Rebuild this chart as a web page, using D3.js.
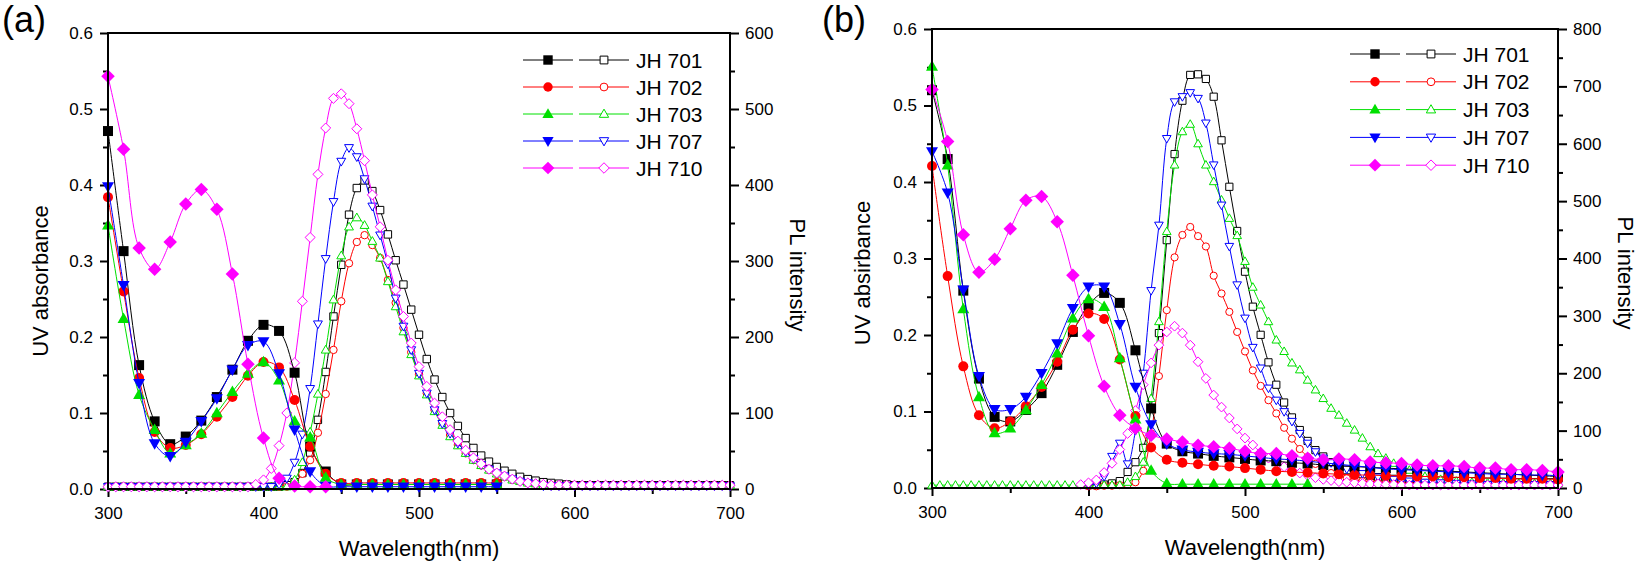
<!DOCTYPE html>
<html><head><meta charset="utf-8">
<script src="https://cdn.jsdelivr.net/npm/d3@7"></script>
<style>
body{margin:0;background:#fff}
svg{display:block}
text{font-family:"Liberation Sans",Arial,sans-serif;fill:#000}
</style>
</head><body>
<svg id="chart" width="1643" height="578"></svg>
<script>
// ---------------- DATA ----------------
const seriesNames = ["JH 701","JH 702","JH 703","JH 707","JH 710"];
const seriesColors = ["#000000","#ff0000","#00e000","#0000ff","#ff00ff"];
const markerShapes = ["square","circle","triangleUp","triangleDown","diamond"];

const xTicks = [300,400,500,600,700];
const xTickLabels = ["300","400","500","600","700"];
const xMinorTicks = [350,450,550,650];
const uvTicks = [0,0.1,0.2,0.3,0.4,0.5,0.6];
const uvTickLabels = ["0.0","0.1","0.2","0.3","0.4","0.5","0.6"];
const uvMinorTicks = [0.05,0.15,0.25,0.35,0.45,0.55];
const plTicksA = [0,100,200,300,400,500,600];
const plTickLabelsA = ["0","100","200","300","400","500","600"];
const plMinorTicksA = [50,150,250,350,450,550];
const plTicksB = [0,100,200,300,400,500,600,700,800];
const plTickLabelsB = ["0","100","200","300","400","500","600","700","800"];
const plMinorTicksB = [50,150,250,350,450,550,650,750];

const uvWavelength = [300,310,320,330,340,350,360,370,380,390,400,410,420,430,440,450,460,470,480,490,
  500,510,520,530,540,550,560,570,580,590,600,610,620,630,640,650,660,670,680,690,700];
const plWavelength = [300,305,310,315,320,325,330,335,340,345,350,355,360,365,370,375,380,385,390,395,
  400,405,410,415,420,425,430,435,440,445,450,455,460,465,470,475,480,485,490,495,
  500,505,510,515,520,525,530,535,540,545,550,555,560,565,570,575,580,585,590,595,
  600,605,610,615,620,625,630,635,640,645,650,655,660,665,670,675,680,685,690,695,700];

// Panel (a) UV absorbance (300..700 step 10; measured to 550)
const uvA701 = [0.471,0.313,0.163,0.089,0.059,0.069,0.090,0.121,0.157,0.195,0.216,0.208,0.153,0.056,0.023,
  0.006,0.006,0.006,0.006,0.006,0.006,0.006,0.006,0.006,0.006,0.006,
  null,null,null,null,null,null,null,null,null,null,null,null,null,null,null];
const uvA702 = [0.384,0.260,0.146,0.075,0.054,0.058,0.072,0.095,0.121,0.149,0.167,0.160,0.117,0.056,0.020,
  0.008,0.008,0.008,0.008,0.008,0.008,0.008,0.008,0.008,0.008,0.008,
  null,null,null,null,null,null,null,null,null,null,null,null,null,null,null];
const uvA703 = [0.347,0.224,0.124,0.078,0.047,0.058,0.073,0.100,0.128,0.152,0.167,0.143,0.089,0.068,0.015,
  0.006,0.006,0.006,0.006,0.006,0.006,0.006,0.006,0.006,0.006,0.006,
  null,null,null,null,null,null,null,null,null,null,null,null,null,null,null];
const uvA707 = [0.398,0.268,0.139,0.060,0.043,0.062,0.089,0.119,0.157,0.189,0.194,0.152,0.078,0.023,0.004,
  0.003,0.003,0.003,0.003,0.003,0.003,0.003,0.003,0.003,0.003,0.003,
  null,null,null,null,null,null,null,null,null,null,null,null,null,null,null];
const uvA710 = [0.543,0.447,0.317,0.289,0.325,0.375,0.394,0.368,0.283,0.164,0.067,0.014,0.004,0.003,0.003,
  null,null,null,null,null,null,null,null,null,null,null,
  null,null,null,null,null,null,null,null,null,null,null,null,null,null,null];

// Panel (a) PL intensity (300..700 step 5)
const plA701 = [3,3,3,3,3,3,3,3,3,3, 3,3,3,3,3,3,3,3,3,3,
  3,3,3,5,9,21,48,91,154,227, 295,361,396,406,392,367,335,301,269,236,
  203,171,144,121,100,83,67,54,44,36, 29,24,20,16,13,11,9,8,7,6,
  5,5,5,5,5,5,5,5,5,5, 5,5,5,5,5,5,5,5,5,5, 5];
const plA702 = [3,3,3,3,3,3,3,3,3,3, 3,3,3,3,3,3,3,3,3,3,
  3,3,3,3,8,20,38,74,125,183, 247,297,325,334,321,304,275,245,212,180,
  151,126,104,86,71,58,47,38,31,25, 20,16,12,10,8,7,5,5,5,5,
  5,5,5,5,5,5,5,5,5,5, 5,5,5,5,5,5,5,5,5,5, 5];
const plA703 = [3,3,3,3,3,3,3,3,3,3, 3,3,3,3,3,3,3,3,3,3,
  3,3,3,3,12,35,75,125,183,249, 307,345,357,347,326,304,273,240,207,177,
  149,124,102,84,69,57,47,38,31,25, 20,16,12,10,8,7,5,5,5,5,
  5,5,5,5,5,5,5,5,5,5, 5,5,5,5,5,5,5,5,5,5, 5];
const plA707 = [3,3,3,3,3,3,3,3,3,3, 3,3,3,3,3,3,3,3,3,3,
  3,3,6,14,35,72,132,217,303,378, 431,449,437,408,372,334,296,251,214,183,
  152,126,104,86,73,60,49,40,32,26, 21,17,13,10,8,6,4,4,4,4,
  4,4,4,4,4,4,4,4,4,4, 4,4,4,4,4,4,4,4,4,4, 4];
const plA710 = [3,3,3,3,3,3,3,3,3,3, 3,3,3,3,3,3,3,3,3,6,
  12,27,57,100,166,247,331,414,475,514, 520,507,474,432,387,345,301,262,227,192,
  161,135,113,95,78,63,51,41,33,26, 21,17,13,10,8,7,6,5,5,5,
  5,5,5,5,5,5,5,5,5,5, 5,5,5,5,5,5,5,5,5,5, 5];

// Panel (b) UV absorbance (300..700 step 10)
const uvB701 = [0.520,0.430,0.258,0.143,0.093,0.087,0.102,0.124,0.161,0.204,0.239,0.255,0.242,0.180,0.104,
  0.058,0.048,0.045,0.042,0.040,0.038,0.036,0.035,0.033,0.032,0.030,0.029,0.028,0.027,0.026,
  0.025,0.024,0.023,0.022,0.021,0.020,0.019,0.018,0.017,0.016,0.015];
const uvB702 = [0.421,0.277,0.159,0.095,0.078,0.087,0.107,0.132,0.165,0.207,0.228,0.221,0.168,0.094,0.053,
  0.037,0.033,0.031,0.029,0.028,0.026,0.024,0.022,0.021,0.020,0.019,0.018,0.017,0.017,0.016,
  0.016,0.015,0.015,0.014,0.014,0.013,0.013,0.012,0.012,0.012,0.011];
const uvB703 = [0.551,0.422,0.234,0.119,0.072,0.078,0.102,0.135,0.176,0.222,0.247,0.237,0.170,0.090,0.023,
  0.006,0.005,0.005,0.005,0.005,0.005,0.005,0.005,0.005,0.005,
  null,null,null,null,null,null,null,null,null,null,null,null,null,null,null,null];
const uvB707 = [0.440,0.386,0.259,0.146,0.103,0.103,0.119,0.150,0.189,0.235,0.263,0.263,0.214,0.132,0.083,
  0.058,0.050,0.047,0.045,0.044,0.042,0.040,0.038,0.037,0.035,0.033,0.031,0.029,0.027,0.025,
  0.024,0.023,0.022,0.021,0.020,0.019,0.018,0.018,0.017,0.017,0.016];
const uvB710 = [0.521,0.453,0.331,0.282,0.299,0.339,0.376,0.381,0.348,0.278,0.199,0.133,0.095,0.078,0.069,
  0.064,0.060,0.056,0.054,0.052,0.048,0.045,0.045,0.042,0.039,0.037,0.038,0.037,0.034,0.033,
  0.032,0.030,0.029,0.029,0.028,0.026,0.026,0.024,0.024,0.023,0.021];

// Panel (b) PL intensity (300..700 step 5)
const plB701 = [null,null,null,null,null,null,null,null,null,null, null,null,null,null,null,null,null,null,null,null,
  5,5,6,8,12,28,45,70,139,270, 432,582,675,720,721,713,682,606,525,448,
  377,316,267,219,180,149,123,101,82,66, 55,45,37,31,27,24,21,19,17,16,
  15,15,14,14,13,13,13,12,12,12, 12,11,11,11,11,10,10,10,10,10, 10];
const plB702 = [null,null,null,null,null,null,null,null,null,null, null,null,null,null,null,null,null,null,null,null,
  3,3,4,4,5,6,10,30,95,195, 310,402,441,455,439,421,370,339,307,272,
  238,205,178,153,130,105,86,68,54,42, 33,26,21,17,14,12,10,9,8,8,
  7,6,6,6,6,6,6,6,6,6, 6,6,6,6,6,6,6,6,6,6, 6];
const plB703 = [5,5,5,5,5,5,5,5,5,5, 5,5,5,5,5,5,5,5,5,5,
  5,5,5,5,5,10,20,45,156,290, 447,563,621,634,600,563,534,502,470,440,
  395,350,319,290,258,238,218,206,188,171, 156,139,127,113,101,87,72,60,52,43,
  37,31,26,20,17,15,13,12,11,10, 10,9,9,9,8,8,8,8,8,8, 8];
const plB707 = [null,null,null,null,null,null,null,null,null,null, null,null,null,null,null,null,null,null,null,null,
  5,8,20,55,78,42,100,200,344,458, 609,673,682,689,679,636,563,493,421,354,
  296,245,209,174,153,133,116,95,78,63, 52,44,37,33,28,25,22,19,17,15,
  13,12,11,10,9,9,8,8,8,7, 7,6,6,6,6,6,6,6,6,6, 6];
const plB710 = [null,null,null,null,null,null,null,null,null,null, null,null,null,null,null,null,null,null,null,6,
  9,14,27,43,67,95,135,180,218,249, 272,282,270,249,220,191,162,141,122,103,
  87,75,62,52,44,37,31,26,22,18, 15,13,11,10,9,8,7,7,6,6,
  5,5,5,5,5,5,5,5,5,5, 5,5,5,5,5,5,5,5,5,5, 5];

// ---------------- LAYOUT ----------------
const panels = [
  {label:"(a)", labelX:2, left:108, right:730, top:33, bottom:489,
   uvTitle:"UV absorbance", uvTitleX:48, uvTitleY:281, plTitleX:790, plTitleY:275,
   xTitleY:556, plMax:600, plTicks:plTicksA, plTickLabels:plTickLabelsA, plMinor:plMinorTicksA,
   uv:[uvA701,uvA702,uvA703,uvA707,uvA710], pl:[plA701,plA702,plA703,plA707,plA710],
   legendX:523, legendY:60, legendStep:27, openSize:3.7},
  {label:"(b)", labelX:822, left:932, right:1558, top:29, bottom:488,
   uvTitle:"UV absirbance", uvTitleX:870, uvTitleY:273, plTitleX:1618, plTitleY:273,
   xTitleY:555, plMax:800, plTicks:plTicksB, plTickLabels:plTickLabelsB, plMinor:plMinorTicksB,
   uv:[uvB701,uvB702,uvB703,uvB707,uvB710], pl:[plB701,plB702,plB703,plB707,plB710],
   legendX:1350, legendY:54, legendStep:27.8, openSize:3.6}
];

const svg = d3.select("#chart");

function symPath(shape, s){
  switch(shape){
    case "square": return `M${-s},${-s}H${s}V${s}H${-s}Z`;
    case "circle": return `M${s},0A${s},${s} 0 1,1 ${-s},0A${s},${s} 0 1,1 ${s},0Z`;
    case "triangleUp": return `M0,${-s*1.25}L${s*1.2},${s*0.85}L${-s*1.2},${s*0.85}Z`;
    case "triangleDown": return `M0,${s*1.25}L${s*1.2},${-s*0.85}L${-s*1.2},${-s*0.85}Z`;
    case "diamond": return `M0,${-s*1.35}L${s*1.35},0L0,${s*1.35}L${-s*1.35},0Z`;
  }
}

function styleAxis(a, fs){
  a.select(".domain").remove();
  a.selectAll(".tick line").attr("stroke","#000").attr("stroke-width",2);
  a.selectAll(".tick text").attr("font-size",fs).attr("font-family","Liberation Sans, Arial, sans-serif").attr("fill","#000");
}

function drawPanel(p){
  const x = d3.scaleLinear().domain([300,700]).range([p.left,p.right]);
  const yU = d3.scaleLinear().domain([0,0.6]).range([p.bottom,p.top]);
  const yP = d3.scaleLinear().domain([0,p.plMax]).range([p.bottom,p.top]);
  const g = svg.append("g");

  const fmtFrom = (ticks, labels) => d => labels[ticks.indexOf(d)];
  let a;
  a = g.append("g").attr("transform",`translate(0,${p.bottom})`)
    .call(d3.axisBottom(x).tickValues(xTicks).tickSize(8).tickPadding(10).tickFormat(fmtFrom(xTicks,xTickLabels)));
  styleAxis(a,17);
  a = g.append("g").attr("transform",`translate(0,${p.bottom})`)
    .call(d3.axisBottom(x).tickValues(xMinorTicks).tickSize(5).tickFormat(""));
  styleAxis(a,17);
  a = g.append("g").attr("transform",`translate(${p.left},0)`)
    .call(d3.axisLeft(yU).tickValues(uvTicks).tickSize(8).tickPadding(7).tickFormat(fmtFrom(uvTicks,uvTickLabels)));
  styleAxis(a,17);
  a = g.append("g").attr("transform",`translate(${p.left},0)`)
    .call(d3.axisLeft(yU).tickValues(uvMinorTicks).tickSize(5).tickFormat(""));
  styleAxis(a,17);
  a = g.append("g").attr("transform",`translate(${p.right},0)`)
    .call(d3.axisRight(yP).tickValues(p.plTicks).tickSize(9).tickPadding(6).tickFormat(fmtFrom(p.plTicks,p.plTickLabels)));
  styleAxis(a,17);
  a = g.append("g").attr("transform",`translate(${p.right},0)`)
    .call(d3.axisRight(yP).tickValues(p.plMinor).tickSize(5).tickFormat(""));
  styleAxis(a,17);

  const line = (yS) => d3.line().defined(d => d.v != null).x(d => x(d.w)).y(d => yS(d.v)).curve(d3.curveCatmullRom);
  const plot = g.append("g");
  p.pl.forEach((vals,i) => {
    const data = plWavelength.map((w,k) => ({w, v: vals[k]}));
    plot.append("path").datum(data).attr("d", line(yP)).attr("fill","none")
      .attr("stroke",seriesColors[i]).attr("stroke-width",1);
    plot.append("g").selectAll("path").data(data.filter(d => d.v != null)).join("path")
      .attr("transform", d => `translate(${x(d.w)},${yP(d.v)})`)
      .attr("d", symPath(markerShapes[i], p.openSize))
      .attr("fill","#fff").attr("stroke",seriesColors[i]).attr("stroke-width",1);
  });
  p.uv.forEach((vals,i) => {
    const data = uvWavelength.map((w,k) => ({w, v: vals[k]}));
    plot.append("path").datum(data).attr("d", line(yU)).attr("fill","none")
      .attr("stroke",seriesColors[i]).attr("stroke-width",1);
    plot.append("g").selectAll("path").data(data.filter(d => d.v != null)).join("path")
      .attr("transform", d => `translate(${x(d.w)},${yU(d.v)})`)
      .attr("d", symPath(markerShapes[i], 5))
      .attr("fill",seriesColors[i]);
  });

  g.append("rect").attr("x",p.left).attr("y",p.top).attr("width",p.right-p.left).attr("height",p.bottom-p.top)
    .attr("fill","none").attr("stroke","#000").attr("stroke-width",2);

  const lg = g.append("g");
  seriesNames.forEach((name,i) => {
    const y = p.legendY + i*p.legendStep, lx = p.legendX;
    lg.append("line").attr("x1",lx).attr("x2",lx+50).attr("y1",y).attr("y2",y).attr("stroke",seriesColors[i]).attr("stroke-width",1);
    lg.append("line").attr("x1",lx+56).attr("x2",lx+106).attr("y1",y).attr("y2",y).attr("stroke",seriesColors[i]).attr("stroke-width",1);
    lg.append("path").attr("transform",`translate(${lx+25},${y})`).attr("d",symPath(markerShapes[i],4.7)).attr("fill",seriesColors[i]);
    lg.append("path").attr("transform",`translate(${lx+81},${y})`).attr("d",symPath(markerShapes[i],3.9))
      .attr("fill","#fff").attr("stroke",seriesColors[i]).attr("stroke-width",1);
    lg.append("text").attr("x",lx+113).attr("y",y+7.5).attr("font-size",21).text(name);
  });

  g.append("text").attr("x",p.labelX).attr("y",32).attr("font-size",36).text(p.label);
  g.append("text").attr("transform",`translate(${p.uvTitleX},${p.uvTitleY}) rotate(-90)`)
    .attr("text-anchor","middle").attr("font-size",22).text(p.uvTitle);
  g.append("text").attr("transform",`translate(${p.plTitleX},${p.plTitleY}) rotate(90)`)
    .attr("text-anchor","middle").attr("font-size",22).text("PL intensity");
  g.append("text").attr("x",(p.left+p.right)/2).attr("y",p.xTitleY)
    .attr("text-anchor","middle").attr("font-size",22).text("Wavelength(nm)");
}

panels.forEach(drawPanel);
</script>
</body></html>
